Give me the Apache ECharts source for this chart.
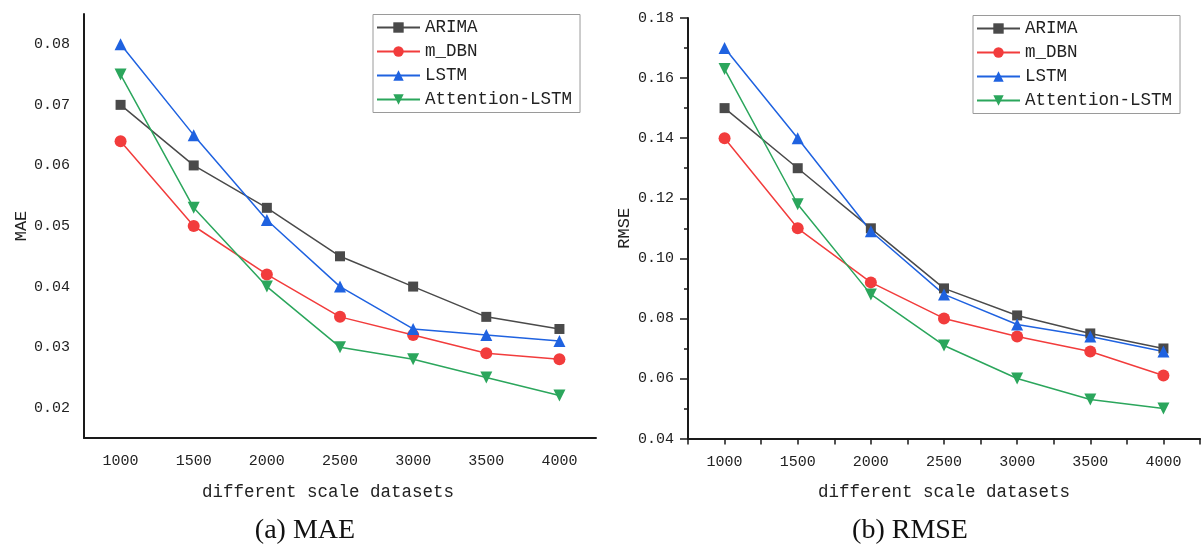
<!DOCTYPE html>
<html>
<head>
<meta charset="utf-8">
<script src="https://cdn.jsdelivr.net/npm/echarts@6/dist/echarts.min.js"></script>
<style>
html,body{margin:0;padding:0;background:#fff;}
#c{width:1203px;height:545px;}
</style>
</head>
<body>
<div id="c"></div>
<script>
const categories = [1000, 1500, 2000, 2500, 3000, 3500, 4000];
const seriesNames = ['ARIMA', 'm_DBN', 'LSTM', 'Attention-LSTM'];
// MAE (left)
const maeARIMA = [0.070, 0.060, 0.053, 0.045, 0.040, 0.035, 0.033];
const maeDBN   = [0.064, 0.050, 0.042, 0.035, 0.032, 0.029, 0.028];
const maeLSTM  = [0.080, 0.065, 0.051, 0.040, 0.033, 0.032, 0.031];
const maeATT   = [0.075, 0.053, 0.040, 0.030, 0.028, 0.025, 0.022];
// RMSE (right)
const rmseARIMA = [0.150, 0.130, 0.110, 0.090, 0.081, 0.075, 0.070];
const rmseDBN   = [0.140, 0.110, 0.092, 0.080, 0.074, 0.069, 0.061];
const rmseLSTM  = [0.170, 0.140, 0.109, 0.088, 0.078, 0.074, 0.069];
const rmseATT   = [0.163, 0.118, 0.088, 0.071, 0.060, 0.053, 0.050];
const maeTicks = ['0.02', '0.03', '0.04', '0.05', '0.06', '0.07', '0.08'];
const rmseTicks = ['0.04', '0.06', '0.08', '0.10', '0.12', '0.14', '0.16', '0.18'];

const colors = ['#4a4a4a', '#f23c3c', '#1f62e0', '#2ba65c'];
const symbols = ['rect', 'circle', 'triangle', 'triangle'];
const symSizes = [10, 12, 12, 12];
const rotates = [0, 0, 0, 180];

const MONO = '"Liberation Mono", "DejaVu Sans Mono", monospace';
const SERIF = '"Liberation Serif", "DejaVu Serif", serif';
const AX = '#1a1a1a';

function mkSeries(name, idx, vals, axisIdx, usePairs) {
  return {
    name: name,
    type: 'line',
    xAxisIndex: axisIdx,
    yAxisIndex: axisIdx,
    data: usePairs ? vals.map((v, i) => [categories[i], v]) : vals,
    symbol: symbols[idx],
    symbolSize: symSizes[idx],
    symbolRotate: rotates[idx],
    lineStyle: { color: colors[idx], width: 1.5 },
    itemStyle: { color: colors[idx] },
    color: colors[idx],
    animation: false,
    z: 3
  };
}

const leftSets = [maeARIMA, maeDBN, maeLSTM, maeATT];
const rightSets = [rmseARIMA, rmseDBN, rmseLSTM, rmseATT];
const series = [];
seriesNames.forEach((n, i) => series.push(mkSeries(n, i, leftSets[i], 0, false)));
seriesNames.forEach((n, i) => series.push(mkSeries(n, i, rightSets[i], 1, true)));

function legendCfg(left, top) {
  return {
    orient: 'vertical',
    left: left, top: top,
    data: seriesNames,
    itemWidth: 43, itemHeight: 13, itemGap: 6,
    borderColor: '#9a9a9a', borderWidth: 1, borderRadius: 0,
    padding: [4, 8, 4, 3],
    backgroundColor: '#fff',
    textStyle: { fontFamily: MONO, fontSize: 17.5, color: '#222', lineHeight: 18 },
    selectedMode: false
  };
}

const option = {
  animation: false,
  grid: [
    { left: 84, top: 14, width: 512, height: 424 },
    { left: 688, top: 18, width: 513, height: 420.6 }
  ],
  xAxis: [
    {
      type: 'category', gridIndex: 0, data: categories.map(String), boundaryGap: true,
      name: 'different scale datasets', nameLocation: 'middle', nameGap: 45,
      nameTextStyle: { fontFamily: MONO, fontSize: 17.5, color: '#222', padding: [0, 24, 0, 0] },
      axisLine: { lineStyle: { color: AX, width: 2 } },
      axisTick: { show: false },
      axisLabel: { fontFamily: MONO, fontSize: 15, color: '#222', margin: 16 },
      splitLine: { show: false }
    },
    {
      type: 'value', gridIndex: 1, min: 750, max: 4250, interval: 250,
      name: 'different scale datasets', nameLocation: 'middle', nameGap: 45,
      nameTextStyle: { fontFamily: MONO, fontSize: 17.5, color: '#222' },
      axisLine: { onZero: false, lineStyle: { color: AX, width: 2 } },
      axisTick: { show: true, length: 6, lineStyle: { color: AX, width: 1.5 } },
      axisLabel: {
        fontFamily: MONO, fontSize: 15, color: '#222', margin: 16,
        showMinLabel: true, showMaxLabel: true,
        formatter: function (v) { return categories.indexOf(v) >= 0 ? String(v) : ''; }
      },
      splitLine: { show: false }
    }
  ],
  yAxis: [
    {
      type: 'value', gridIndex: 0, min: 0.015, max: 0.085, interval: 0.005,
      name: 'MAE', nameLocation: 'middle', nameGap: 54,
      nameTextStyle: { fontFamily: MONO, fontSize: 17, color: '#222' },
      axisLine: { show: true, lineStyle: { color: AX, width: 2 } },
      axisTick: { show: false },
      axisLabel: {
        fontFamily: MONO, fontSize: 15, color: '#222', margin: 14,
        formatter: function (v) {
          const s = v.toFixed(2);
          return (maeTicks.indexOf(s) >= 0 && Math.abs(v * 100 - Math.round(v * 100)) < 1e-6) ? s : '';
        }
      },
      splitLine: { show: false }
    },
    {
      type: 'value', gridIndex: 1, min: 0.04, max: 0.18, interval: 0.02,
      name: 'RMSE', nameLocation: 'middle', nameGap: 55,
      nameTextStyle: { fontFamily: MONO, fontSize: 17, color: '#222' },
      axisLine: { show: true, lineStyle: { color: AX, width: 2 } },
      axisTick: { show: true, length: 8, lineStyle: { color: AX, width: 1.5 } },
      minorTick: { show: true, splitNumber: 2, length: 4, lineStyle: { color: AX, width: 1.5 } },
      axisLabel: {
        fontFamily: MONO, fontSize: 15, color: '#222', margin: 14,
        formatter: function (v) { const s = v.toFixed(2); return rmseTicks.indexOf(s) >= 0 ? s : ''; }
      },
      splitLine: { show: false }
    }
  ],
  legend: [
    legendCfg(373, 14.5),
    legendCfg(973, 15.5)
  ],
  graphic: [
    { type: 'text', x: 305, y: 531, style: { text: '(a) MAE', font: '28px ' + SERIF, fill: '#111', textAlign: 'center', textVerticalAlign: 'middle' } },
    { type: 'text', x: 910, y: 531, style: { text: '(b) RMSE', font: '28px ' + SERIF, fill: '#111', textAlign: 'center', textVerticalAlign: 'middle' } }
  ],
  series: series
};

const chart = echarts.init(document.getElementById('c'), null, { renderer: 'canvas' });
chart.setOption(option);
</script>
</body>
</html>
